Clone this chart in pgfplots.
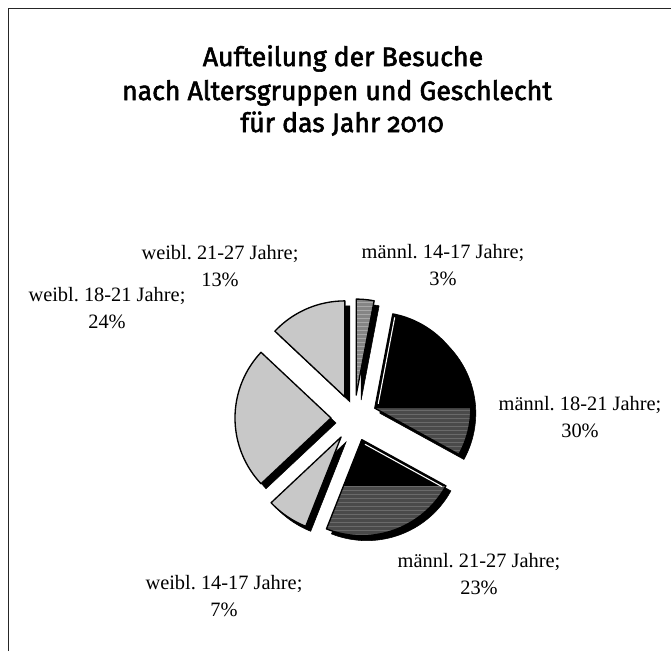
\documentclass[border=0pt]{standalone}
\usepackage{pgfplots}
\pgfplotsset{compat=1.18}
\usepackage{pgfplotstable}
\usepackage{fontspec}
\setmainfont{Liberation Serif}
\newfontfamily\titlefont[Numbers=OldStyle, FakeBold=2.2]{Fira Sans}
\usetikzlibrary{patterns}
\frenchspacing

\definecolor{wgray}{HTML}{C8C8C8}
\definecolor{mlight}{HTML}{858585}
\definecolor{mlightS}{HTML}{A8A8A8}
\definecolor{mdark}{HTML}{4A4A4A}
\definecolor{mdarkS}{HTML}{6A6A6A}

\pgfplotstableread{
key pct
m1417 3
m1821 30
m2127 23
w1417 7
w1821 24
w2127 13
}\piedata

\def\cx{354}\def\cy{418}\def\dd{23}\def\rr{96}\def\sh{5}
\newcommand\getslice[2]{%
  \pgfplotstablegetelem{#1}{pct}\of\piedata
  \pgfmathsetmacro\tP{\pgfplotsretval}%
  \pgfmathsetmacro\tA{90-3.6*\cum}%
  \pgfmathsetmacro\tB{90-3.6*(\cum+\tP)}%
  \pgfmathsetmacro\tM{(\tA+\tB)/2}%
  \pgfmathsetmacro\tX{\cx+\dd*cos(\tM)}%
  \pgfmathsetmacro\tY{\cy-\dd*sin(\tM)}%
  \pgfmathsetmacro\tSX{\tX+\sh}%
  \pgfmathsetmacro\tSY{\tY+\sh}%
  % white highlight line along the leading edge, 2.5 px inside
  \pgfmathsetmacro\tHXa{\tX+2.5*sin(\tA)+5*cos(\tA)}%
  \pgfmathsetmacro\tHYa{\tY+2.5*cos(\tA)-5*sin(\tA)}%
  \pgfmathsetmacro\tHXb{\tX+2.5*sin(\tA)+(\rr-3)*cos(\tA)}%
  \pgfmathsetmacro\tHYb{\tY+2.5*cos(\tA)-(\rr-3)*sin(\tA)}%
  \expandafter\let\csname a#2\endcsname\tA
  \expandafter\let\csname b#2\endcsname\tB
  \expandafter\let\csname x#2\endcsname\tX
  \expandafter\let\csname y#2\endcsname\tY
  \expandafter\let\csname sx#2\endcsname\tSX
  \expandafter\let\csname sy#2\endcsname\tSY
  \expandafter\let\csname hxa#2\endcsname\tHXa
  \expandafter\let\csname hya#2\endcsname\tHYa
  \expandafter\let\csname hxb#2\endcsname\tHXb
  \expandafter\let\csname hyb#2\endcsname\tHYb
  \pgfmathsetmacro\cum{\cum+\tP}%
}
% #1 style, #2 start angle, #3 end angle, #4 tip x, #5 tip y
\newcommand\sliceplot[5]{%
  \addplot[#1, domain=#3:#2, samples=60, variable=\t]
    ({#4+\rr*cos(\t)},{#5-\rr*sin(\t)}) -- (axis cs:#4,#5) -- cycle;
}

\begin{document}
\begin{tikzpicture}
\useasboundingbox (0,0) rectangle (503.25pt,488.25pt);
\def\cum{0}
\getslice{0}{A}\getslice{1}{B}\getslice{2}{C}\getslice{3}{D}\getslice{4}{E}\getslice{5}{F}
% split of the darker fill in slice C
\pgfmathsetmacro\hC{-\rr*sin(\aC)}
\pgfmathsetmacro\pxC{\xC+\rr*cos(\aC)}
\pgfmathsetmacro\pyC{\yC+\hC}
\pgfmathsetmacro\qxC{\xC+(\hC/(-sin(\bC)))*cos(\bC)}
\begin{axis}[at={(0,0)}, anchor=south west, scale only axis,
  width=503.25pt, height=488.25pt, xmin=0, xmax=671, ymin=0, ymax=651,
  y dir=reverse, hide axis, clip=false]
% frame
\draw[line width=1.1pt, black!85] (axis cs:8.5,651) -- (axis cs:8.5,8.5) -- (axis cs:671,8.5);
% shadows
\sliceplot{fill=black,draw=black}{\aA}{\bA}{\sxA}{\syA}
\sliceplot{fill=black,draw=black}{\aB}{\bB}{\sxB}{\syB}
\sliceplot{fill=black,draw=black}{\aC}{\bC}{\sxC}{\syC}
\sliceplot{fill=black,draw=black}{\aD}{\bD}{\sxD}{\syD}
\sliceplot{fill=black,draw=black}{\aE}{\bE}{\sxE}{\syE}
\sliceplot{fill=black,draw=black}{\aF}{\bF}{\sxF}{\syF}
% slice A: maennl. 14-17
\sliceplot{fill=mlight, draw=none, postaction={pattern=horizontal lines, pattern color=mlightS}}{\aA}{\bA}{\xA}{\yA}
\sliceplot{draw=black, line width=1pt, line join=round}{\aA}{\bA}{\xA}{\yA}
% slice B: maennl. 18-21
\sliceplot{fill=mdark, draw=none, postaction={pattern=horizontal lines, pattern color=mdarkS}}{0}{\bB}{\xB}{\yB}
\sliceplot{fill=black, draw=none}{\aB}{0}{\xB}{\yB}
\addplot[white, line width=0.8pt] coordinates {(\hxaB,\hyaB) (\hxbB,\hybB)};
\sliceplot{draw=black, line width=1pt, line join=round}{\aB}{\bB}{\xB}{\yB}
% slice C: maennl. 21-27
\sliceplot{fill=mdark, draw=none, postaction={pattern=horizontal lines, pattern color=mdarkS}}{\aC}{\bC}{\xC}{\yC}
\addplot[fill=black, draw=none] coordinates {(\xC,\yC) (\pxC,\pyC) (\qxC,\pyC)} -- cycle;
\addplot[white, line width=0.8pt] coordinates {(\hxaC,\hyaC) (\hxbC,\hybC)};
\sliceplot{draw=black, line width=1pt, line join=round}{\aC}{\bC}{\xC}{\yC}
% slices D, E, F: weibl.
\sliceplot{fill=wgray, draw=black, line width=1pt, line join=round}{\aD}{\bD}{\xD}{\yD}
\sliceplot{fill=wgray, draw=black, line width=1pt, line join=round}{\aE}{\bE}{\xE}{\yE}
\sliceplot{fill=wgray, draw=black, line width=1pt, line join=round}{\aF}{\bF}{\xF}{\yF}
% title
\tikzset{ttl/.style={anchor=base, font=\titlefont\fontsize{20}{24}\selectfont}}
\node[ttl] at (axis cs:343,66) {Aufteilung der Besuche};
\node[ttl] at (axis cs:337,100) {nach Altersgruppen und Geschlecht};
\node[ttl] at (axis cs:342,132) {für das Jahr 2010};
% labels
\tikzset{lbl/.style={align=center, font=\fontsize{15.3}{20.5}\selectfont, inner sep=0pt}}
\node[lbl] at (axis cs:443,265) {männl. 14-17 Jahre;\\3\%};
\node[lbl] at (axis cs:580,417) {männl. 18-21 Jahre;\\30\%};
\node[lbl] at (axis cs:479,574) {männl. 21-27 Jahre;\\23\%};
\node[lbl] at (axis cs:224,596) {weibl. 14-17 Jahre;\\7\%};
\node[lbl] at (axis cs:107,308) {weibl. 18-21 Jahre;\\24\%};
\node[lbl] at (axis cs:220,266) {weibl. 21-27 Jahre;\\13\%};
\end{axis}
\end{tikzpicture}
\end{document}
